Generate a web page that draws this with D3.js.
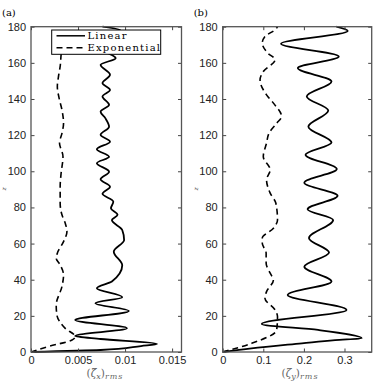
<!DOCTYPE html>
<html>
<head>
<meta charset="utf-8">
<script src="https://cdn.jsdelivr.net/npm/d3@7"></script>
<style>
  body { margin: 0; background: #fff; }
  .tick text { font-family: "Liberation Sans", Arial, sans-serif; font-size: 11px; fill: #222; }
</style>
</head>
<body>
<div id="chart"></div>
<script>
// panel (a): (zeta_x)_rms vs z
var zA_lin = [0, 1.1, 3.3, 4.4, 7.2, 8.9, 13.1, 17.7, 22.7, 27, 30.3, 35.3, 39, 48, 55.5, 62, 67.5, 73, 75.9, 79.5, 83.2, 87.5, 91.5, 95.6, 99.8, 104.5, 108, 112.2, 116.4, 120.2, 124.7, 129.4, 133, 136.8, 141.4, 145, 148.8, 153.4, 158.9, 162.6, 167, 171, 175, 178, 180];
var vA_lin = [0, 0.0074, 0.0117, 0.0134, 0.0074, 0.0047, 0.0102, 0.0047, 0.0104, 0.00685, 0.0097, 0.0070, 0.0086, 0.0097, 0.0088, 0.0099, 0.0097, 0.0086, 0.0092, 0.0085, 0.00875, 0.0076, 0.0084, 0.0074, 0.0083, 0.0070, 0.0083, 0.0070, 0.0084, 0.0074, 0.0083, 0.0079, 0.0074, 0.0083, 0.0076, 0.0084, 0.0076, 0.0084, 0.0074, 0.0090, 0.0078, 0.0086, 0.0079, 0.0095, 0.0076];
var zA_exp = [0, 3.3, 6.6, 8.5, 13.1, 20.5, 26, 36.2, 42.6, 48.2, 51.9, 54.7, 61.1, 66.6, 71.3, 75.9, 82.3, 91.5, 98.9, 108.1, 115.6, 121, 126.6, 134, 139.5, 146.9, 152.4, 158, 164.5, 170];
var vA_exp = [0, 0.00203, 0.00436, 0.0047, 0.00364, 0.00275, 0.00268, 0.00329, 0.00346, 0.0031, 0.00268, 0.0028, 0.00346, 0.00382, 0.00364, 0.00329, 0.0031, 0.0031, 0.0032, 0.0034, 0.00303, 0.00329, 0.00346, 0.00329, 0.00303, 0.0028, 0.00292, 0.0031, 0.0032, 0.0033];

// panel (b): (zeta_y)_rms vs z
var zB_lin = [0, 2, 4.8, 6.6, 7.6, 12.2, 15.5, 23.3, 31.6, 39, 47.2, 55, 63, 73.1, 79, 86.4, 93.7, 101.2, 109.1, 115.9, 124.7, 133.6, 141.4, 149.7, 157.1, 163.5, 170.6, 177.6, 180];
var vB_lin = [0, 0.071, 0.195, 0.277, 0.3424, 0.235, 0.096, 0.305, 0.160, 0.268, 0.201, 0.262, 0.2125, 0.272, 0.209, 0.283, 0.201, 0.281, 0.204, 0.268, 0.211, 0.260, 0.207, 0.268, 0.185, 0.286, 0.1436, 0.308, 0.28];
var zB_exp = [0, 4.8, 12.2, 19.5, 23.3, 29.7, 33.4, 39.9, 43.6, 49.1, 54.7, 60.2, 63, 68.5, 73.1, 82.3, 87.9, 95.2, 100.8, 108.1, 115.6, 121, 126.6, 130.3, 137.7, 142.3, 150.6, 155.2, 161.7, 165.4, 170.9, 174.6, 178.3, 180];
var vB_exp = [0, 0.0714, 0.133, 0.135, 0.129, 0.104, 0.108, 0.125, 0.117, 0.107, 0.107, 0.0975, 0.0975, 0.125, 0.135, 0.131, 0.117, 0.108, 0.117, 0.100, 0.108, 0.114, 0.133, 0.145, 0.125, 0.108, 0.092, 0.100, 0.129, 0.111, 0.0975, 0.104, 0.129, 0.135];

var zTicks = [0, 20, 40, 60, 80, 100, 120, 140, 160, 180];
var xTicksA = [0, 0.005, 0.01, 0.015];
var xTicksB = [0, 0.1, 0.2, 0.3];
var legendLabels = ["Linear", "Exponential"];

var svg = d3.select("#chart").append("svg")
    .attr("width", 375)
    .attr("height", 381);

var plotTop = 26.7, plotBottom = 352;

function zip(zs, vs) {
    return zs.map(function (z, i) { return [vs[i], z]; });
}

function panel(left, right, xmax, xticks, fmt, lin, exp, tag) {
    var x = d3.scaleLinear().domain([0, xmax]).range([left, right]);
    var y = d3.scaleLinear().domain([0, 180]).range([plotBottom, plotTop]);
    var g = svg.append("g");

    var line = d3.line()
        .x(function (d) { return x(d[0]); })
        .y(function (d) { return y(d[1]); })
        .curve(d3.curveMonotoneY);

    g.append("path").datum(exp)
        .attr("d", line)
        .attr("fill", "none")
        .attr("stroke", "#000")
        .attr("stroke-width", 1.6)
        .attr("stroke-dasharray", "6,4");

    g.append("path").datum(lin)
        .attr("d", line)
        .attr("fill", "none")
        .attr("stroke", "#000")
        .attr("stroke-width", 1.8);

    // axes with inward ticks on all sides (box on)
    var ax = g.append("g").attr("transform", "translate(" + left + ",0)")
        .call(d3.axisLeft(y).tickValues(zTicks).tickSize(-3.5).tickPadding(5).tickSizeOuter(0));
    ax.select(".domain").remove();
    ax.selectAll("line").attr("stroke", "#444");

    var ar = g.append("g").attr("transform", "translate(" + right + ",0)")
        .call(d3.axisRight(y).tickValues(zTicks).tickSize(-3.5).tickFormat("").tickSizeOuter(0));
    ar.select(".domain").remove();
    ar.selectAll("line").attr("stroke", "#444");

    var ab = g.append("g").attr("transform", "translate(0," + plotBottom + ")")
        .call(d3.axisBottom(x).tickValues(xticks).tickFormat(fmt).tickSize(-3.5).tickPadding(4.5).tickSizeOuter(0));
    ab.select(".domain").remove();
    ab.selectAll("line").attr("stroke", "#444");

    var at = g.append("g").attr("transform", "translate(0," + plotTop + ")")
        .call(d3.axisTop(x).tickValues(xticks).tickFormat("").tickSize(-3.5).tickSizeOuter(0));
    at.select(".domain").remove();
    at.selectAll("line").attr("stroke", "#444");

    g.append("rect")
        .attr("x", left).attr("y", plotTop)
        .attr("width", right - left).attr("height", plotBottom - plotTop)
        .attr("fill", "none")
        .attr("stroke", "#555")
        .attr("stroke-width", 1.3);

    // panel tag
    svg.append("text")
        .attr("x", left - 29).attr("y", 16)
        .style("font-family", "'DejaVu Serif', serif")
        .style("font-size", "10px")
        .text(tag);

    // z label
    svg.append("text")
        .attr("transform", "translate(" + (left - 25) + ",189) rotate(-90)")
        .attr("text-anchor", "middle")
        .style("font-family", "'DejaVu Serif', serif")
        .style("font-style", "italic")
        .style("font-size", "6px")
        .style("fill", "#555")
        .text("z");

    return x;
}

var xa = panel(31, 181.5, 0.016, xTicksA, function (d) { return d === 0 ? "0" : String(d); },
    zip(zA_lin, vA_lin), zip(zA_exp, vA_exp), "(a)");
var xb = panel(222.7, 371.7, 0.367, xTicksB, function (d) { return d === 0 ? "0" : d3.format(".1f")(d); },
    zip(zB_lin, vB_lin), zip(zB_exp, vB_exp), "(b)");

// x labels
function xlabel(cx, accent, sub) {
    var t = svg.append("text")
        .attr("x", cx).attr("y", 376.5)
        .attr("text-anchor", "middle")
        .style("font-family", "'DejaVu Serif', serif")
        .style("font-size", "10.5px")
        .style("fill", "#666");
    t.append("tspan").text("(");
    t.append("tspan").style("font-style", "italic").text(accent);
    t.append("tspan").attr("dy", 2).style("font-size", "8px").style("font-style", "italic").text(sub);
    t.append("tspan").attr("dy", -2).text(")");
    t.append("tspan").attr("dy", 2).style("font-size", "8px").style("font-style", "italic")
        .style("letter-spacing", "1px").text("rms");
}
xlabel(105, "\u03B6\u0303", "x");
xlabel(300, "\u03B6", "y");

// legend in panel (a)
var lg = svg.append("g");
lg.append("rect")
    .attr("x", 51.7).attr("y", 30)
    .attr("width", 109).attr("height", 24.3)
    .attr("fill", "#fff")
    .attr("stroke", "#000")
    .attr("stroke-width", 1);

legendLabels.forEach(function (name, i) {
    var yy = 35.8 + i * 12;
    lg.append("line")
        .attr("x1", 56.5).attr("x2", 85)
        .attr("y1", yy).attr("y2", yy)
        .attr("stroke", "#000")
        .attr("stroke-width", 1.5)
        .attr("stroke-dasharray", i === 0 ? null : "6,4");
    lg.append("text")
        .attr("x", 87.5).attr("y", yy + 3.5)
        .style("font-family", "'DejaVu Serif', serif")
        .style("font-size", "10px")
        .style("letter-spacing", "1.2px")
        .text(name);
});
</script>
</body>
</html>
